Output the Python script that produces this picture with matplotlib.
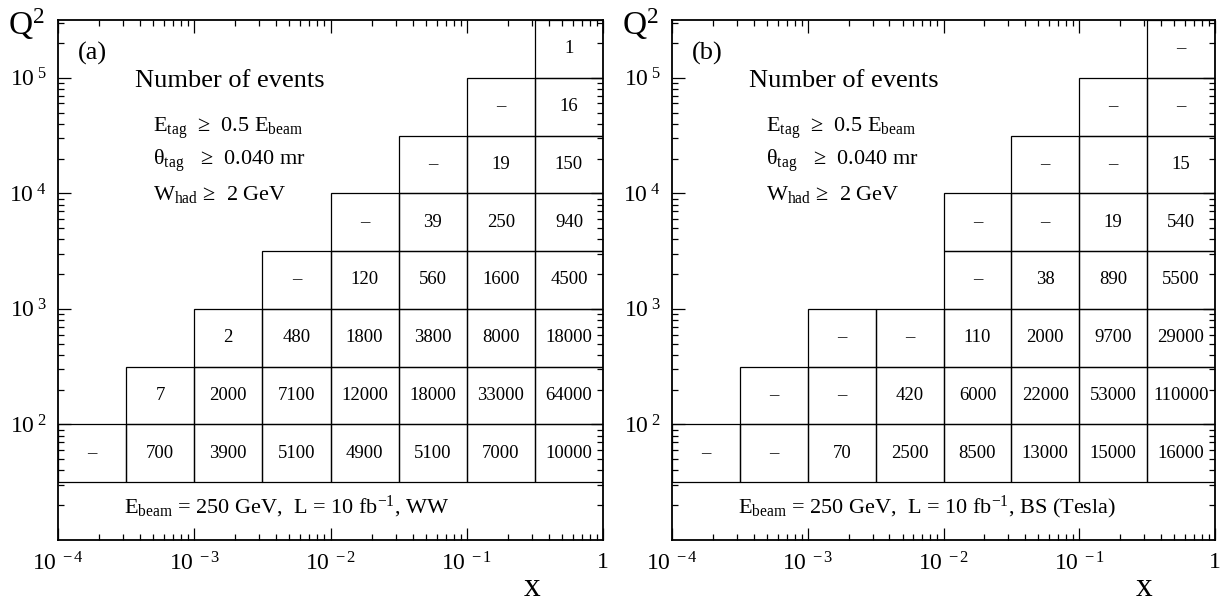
import numpy as np
import matplotlib
matplotlib.use('Agg')
import matplotlib.pyplot as plt
import matplotlib.ticker as mticker
from matplotlib.patches import Rectangle

plt.rcParams['font.family'] = ['Liberation Serif', 'DejaVu Serif']
plt.rcParams['mathtext.fontset'] = 'custom'
plt.rcParams['mathtext.rm'] = 'Liberation Serif'
plt.rcParams['mathtext.it'] = 'Liberation Serif:italic'
plt.rcParams['mathtext.bf'] = 'Liberation Serif:bold'

# half-decade bins in x and Q^2
x_edges = 10 ** np.arange(-4, 0.01, 0.5)
q2_edges = 10 ** np.arange(1.5, 5.51, 0.5)

# number of events per bin, one row per Q^2 bin (lowest first),
# rows run up to x = 1; None means no events in that bin
events_ww = [
    [None, 700, 3900, 5100, 4900, 5100, 7000, 10000],
    [7, 2000, 7100, 12000, 18000, 33000, 64000],
    [2, 480, 1800, 3800, 8000, 18000],
    [None, 120, 560, 1600, 4500],
    [None, 39, 250, 940],
    [None, 19, 150],
    [None, 16],
    [1],
]
events_bs = [
    [None, None, 70, 2500, 8500, 13000, 15000, 16000],
    [None, None, 420, 6000, 22000, 53000, 110000],
    [None, None, 110, 2000, 9700, 29000],
    [None, 38, 890, 5500],
    [None, None, 19, 540],
    [None, None, 15],
    [None, None],
    [None],
]

cuts = [r'E$_{\mathrm{tag}}$  ≥  0.5 E$_{\mathrm{beam}}$',
        r'θ$_{\mathrm{tag}}$   ≥  0.040 mr',
        r'W$_{\mathrm{had}}$ ≥  2 GeV']


def log_label(v, pos):
    e = int(round(np.log10(v)))
    if e == 0:
        return '1'
    return r'$10^{\ %d}$' % e


def draw_panel(ax, rows, tag, beam_text):
    ax.set_xscale('log')
    ax.set_yscale('log')
    ax.set_xlim(1e-4, 1)
    ax.set_ylim(10, 10 ** 5.5)

    for r, row in enumerate(rows):
        y0, y1 = q2_edges[r], q2_edges[r + 1]
        start = len(x_edges) - 1 - len(row)
        for k, n in enumerate(row):
            x0, x1 = x_edges[start + k], x_edges[start + k + 1]
            ax.add_patch(Rectangle((x0, y0), x1 - x0, y1 - y0, fill=False,
                                   ec='black', lw=0.9))
            ax.text(np.sqrt(x0 * x1), np.sqrt(y0 * y1),
                    '–' if n is None else str(n),
                    ha='center', va='center', fontsize=13.5)

    ax.xaxis.set_major_locator(mticker.LogLocator(base=10, numticks=10))
    ax.xaxis.set_minor_locator(mticker.LogLocator(base=10, subs=np.arange(2, 10), numticks=20))
    ax.yaxis.set_major_locator(mticker.FixedLocator([1e2, 1e3, 1e4, 1e5]))
    ax.yaxis.set_minor_locator(mticker.LogLocator(base=10, subs=np.arange(2, 10), numticks=20))
    ax.xaxis.set_major_formatter(mticker.FuncFormatter(log_label))
    ax.yaxis.set_major_formatter(mticker.FuncFormatter(log_label))
    ax.xaxis.set_minor_formatter(mticker.NullFormatter())
    ax.yaxis.set_minor_formatter(mticker.NullFormatter())
    ax.tick_params(which='both', direction='in', top=True, right=True,
                   width=0.9, labelsize=17)
    ax.tick_params(which='major', length=9)
    ax.tick_params(which='minor', length=4.5)
    ax.tick_params(axis='x', pad=9)
    ax.tick_params(axis='y', pad=8)
    for s in ax.spines.values():
        s.set_linewidth(1.3)

    ax.text(-0.024, 0.971, r'$\mathrm{Q}^2$', transform=ax.transAxes,
            ha='right', va='baseline', fontsize=24)
    ax.text(0.87, -0.108, 'x', transform=ax.transAxes,
            ha='center', va='baseline', fontsize=24)

    ax.text(0.037, 0.923, tag, transform=ax.transAxes, va='baseline', fontsize=19)
    ax.text(0.141, 0.871, 'Number of events', transform=ax.transAxes,
            va='baseline', fontsize=19)
    for line, yy in zip(cuts, [0.785, 0.721, 0.654]):
        ax.text(0.174, yy, line, transform=ax.transAxes, va='baseline', fontsize=16)
    ax.text(0.121, 0.052, beam_text, transform=ax.transAxes,
            va='baseline', fontsize=16)


fig = plt.figure(figsize=(12.2, 6.04), dpi=100)
ax1 = fig.add_axes([58 / 1220, 1 - 540 / 604, 545 / 1220, 520 / 604])
ax2 = fig.add_axes([672 / 1220, 1 - 540 / 604, 543 / 1220, 520 / 604])

draw_panel(ax1, events_ww, '(a)',
           r'E$_{\mathrm{beam}}$ = 250 GeV,  L = 10 fb$^{-1}$, WW')
draw_panel(ax2, events_bs, '(b)',
           r'E$_{\mathrm{beam}}$ = 250 GeV,  L = 10 fb$^{-1}$, BS (Tesla)')

fig.savefig('out.png', dpi=100)
